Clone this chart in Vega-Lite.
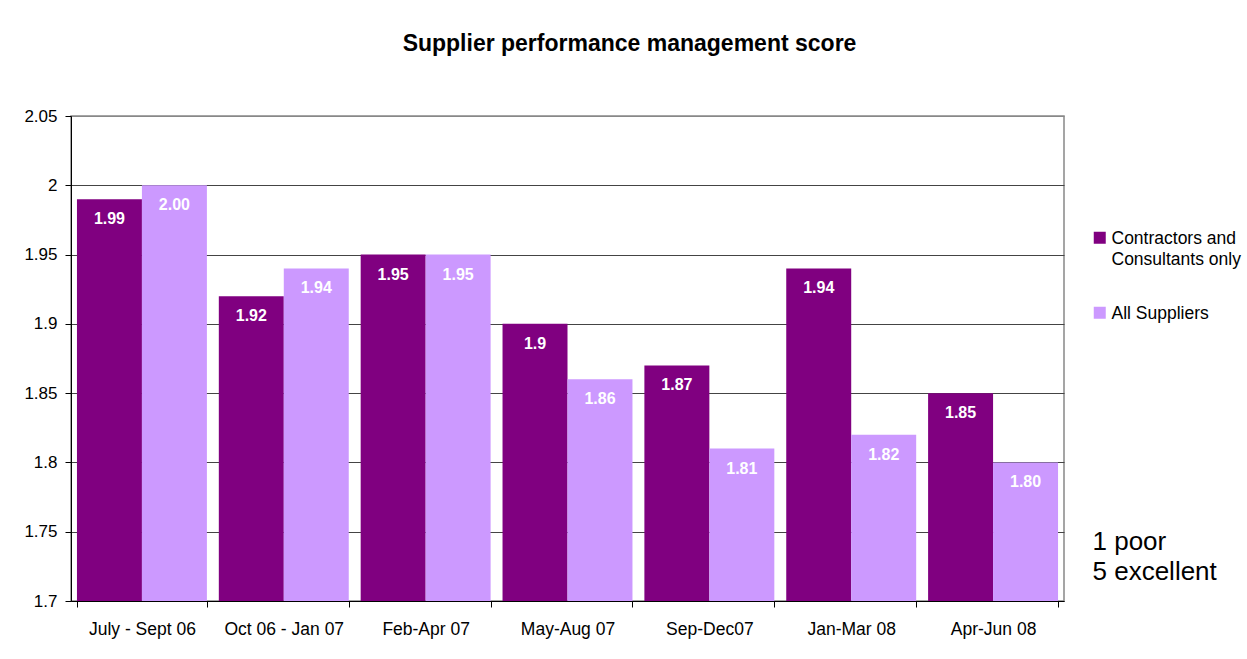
{
  "$schema": "https://vega.github.io/schema/vega-lite/v6.json",
  "width": 993,
  "height": 485,
  "autosize": {"type": "none"},
  "padding": {"left": 71, "top": 116, "right": 183, "bottom": 58},
  "background": "white",
  "config": {
    "font": "Liberation Sans",
    "view": {"stroke": "#888", "strokeWidth": 1.5}
  },
  "title": {
    "text": "Supplier performance management score",
    "fontSize": 23,
    "fontWeight": "bold",
    "font": "Liberation Sans",
    "color": "black",
    "anchor": "middle",
    "dx": 62,
    "offset": 51
  },
  "data": {
    "values": [
      {"period": "July - Sept 06", "series": "Contractors and Consultants only", "value": 1.99, "label": "1.99"},
      {"period": "July - Sept 06", "series": "All Suppliers", "value": 2.00, "label": "2.00"},
      {"period": "Oct 06 - Jan 07", "series": "Contractors and Consultants only", "value": 1.92, "label": "1.92"},
      {"period": "Oct 06 - Jan 07", "series": "All Suppliers", "value": 1.94, "label": "1.94"},
      {"period": "Feb-Apr 07", "series": "Contractors and Consultants only", "value": 1.95, "label": "1.95"},
      {"period": "Feb-Apr 07", "series": "All Suppliers", "value": 1.95, "label": "1.95"},
      {"period": "May-Aug 07", "series": "Contractors and Consultants only", "value": 1.90, "label": "1.9"},
      {"period": "May-Aug 07", "series": "All Suppliers", "value": 1.86, "label": "1.86"},
      {"period": "Sep-Dec07", "series": "Contractors and Consultants only", "value": 1.87, "label": "1.87"},
      {"period": "Sep-Dec07", "series": "All Suppliers", "value": 1.81, "label": "1.81"},
      {"period": "Jan-Mar 08", "series": "Contractors and Consultants only", "value": 1.94, "label": "1.94"},
      {"period": "Jan-Mar 08", "series": "All Suppliers", "value": 1.82, "label": "1.82"},
      {"period": "Apr-Jun 08", "series": "Contractors and Consultants only", "value": 1.85, "label": "1.85"},
      {"period": "Apr-Jun 08", "series": "All Suppliers", "value": 1.80, "label": "1.80"}
    ]
  },
  "encoding": {
    "x": {
      "field": "period",
      "type": "nominal",
      "sort": null,
      "scale": {"paddingInner": 0.084, "paddingOuter": 0.042},
      "axis": {
        "title": null,
        "labelAngle": 0,
        "labelFontSize": 17.5,
        "labelColor": "black",
        "labelPadding": 13,
        "tickBand": "extent",
        "tickSize": 6,
        "tickColor": "black",
        "domainColor": "black",
        "grid": false
      }
    },
    "xOffset": {
      "field": "series",
      "type": "nominal",
      "sort": ["Contractors and Consultants only", "All Suppliers"],
      "scale": {"paddingInner": 0, "paddingOuter": 0}
    }
  },
  "layer": [
    {
      "mark": {"type": "bar", "clip": true},
      "encoding": {
        "y": {
          "field": "value",
          "type": "quantitative",
          "scale": {"domain": [1.7, 2.05], "zero": false, "nice": false},
          "axis": {
            "title": null,
            "values": [1.7, 1.75, 1.8, 1.85, 1.9, 1.95, 2, 2.05],
            "format": ".2~f",
            "labelFontSize": 17,
            "labelColor": "black",
            "labelPadding": 8,
            "tickSize": 6,
            "tickColor": "black",
            "domainColor": "black",
            "gridColor": {"condition": {"test": "datum.value >= 2.04", "value": "#888"}, "value": "#444"},
            "gridWidth": 1.2
          }
        },
        "y2": {"datum": 1.7},
        "color": {
          "field": "series",
          "type": "nominal",
          "sort": ["Contractors and Consultants only", "All Suppliers"],
          "scale": {"domain": ["Contractors and Consultants only", "All Suppliers"], "range": ["#800080", "#CC99FF"]},
          "legend": {
            "title": null,
            "orient": "none",
            "legendX": 1020,
            "legendY": 113,
            "symbolType": "square",
            "symbolSize": 144,
            "symbolStrokeWidth": 0,
            "symbolOpacity": 1,
            "labelFontSize": 17.5,
            "labelColor": "black",
            "labelLimit": 300,
            "labelOffset": 3,
            "rowPadding": 35,
            "labelExpr": "datum.label == 'Contractors and Consultants only' ? ['Contractors and', 'Consultants only'] : datum.label",
            "labelBaseline": "alphabetic",
            "encode": {"labels": {"update": {"dy": {"value": 6}, "lineHeight": {"value": 21}}}}
          }
        }
      }
    },
    {
      "mark": {"type": "text", "color": "white", "fontWeight": "bold", "fontSize": 16, "baseline": "middle", "dy": 20},
      "encoding": {
        "y": {
          "field": "value",
          "type": "quantitative",
          "axis": {
            "orient": "right",
            "title": ["1 poor", "5 excellent"],
            "titleAngle": 0,
            "titleAlign": "left",
            "titleBaseline": "alphabetic",
            "titleFontSize": 26,
            "titleFontWeight": "normal",
            "titleColor": "black",
            "titleLineHeight": 30,
            "titleX": 28,
            "titleY": 433,
            "labels": false,
            "ticks": false,
            "domain": false,
            "grid": false
          }
        },
        "text": {"field": "label"}
      }
    }
  ],
  "resolve": {"axis": {"y": "independent"}}
}
